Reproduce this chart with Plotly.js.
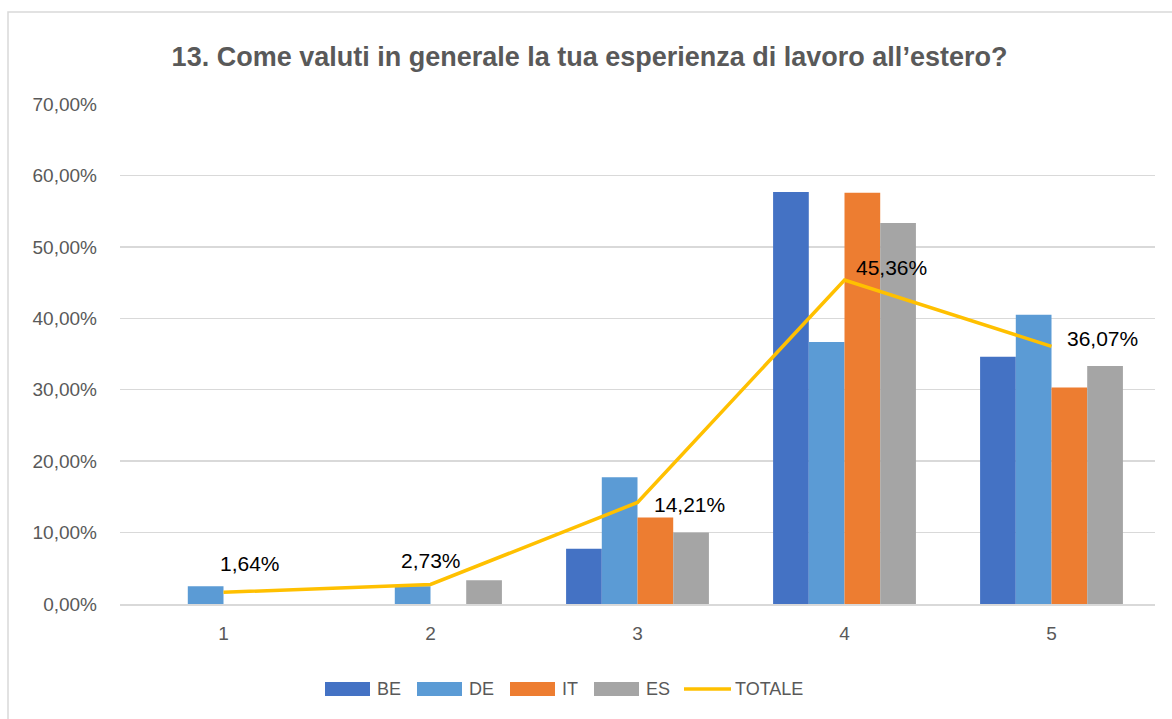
<!DOCTYPE html>
<html>
<head>
<meta charset="utf-8">
<script src="https://cdn.plot.ly/plotly-3.0.1.min.js"></script>
<style>html,body{margin:0;padding:0;background:#fff;}#chart{width:1172px;height:719px;}</style>
</head>
<body>
<div id="chart"></div>
<script>
const categories = ['1', '2', '3', '4', '5'];
const BE = [0, 0, 7.72, 57.69, 34.62];
const DE = [2.5, 2.5, 17.73, 36.67, 40.5];
const IT = [0, 0, 12.12, 57.58, 30.3];
const ES = [0, 3.33, 10.0, 53.33, 33.33];
const TOTALE = [1.64, 2.73, 14.21, 45.36, 36.07];
const yTicks = [0, 10, 20, 30, 40, 50, 60, 70];

const fmt = v => v.toFixed(2).replace('.', ',') + '%';
const font = '"Liberation Sans", Arial, sans-serif';

// plot area in pixels (for converting legend/border placement to paper coords)
const M = {l: 120, r: 17, t: 104, b: 115};
const W = 1172, H = 719;
const PW = W - M.l - M.r, PH = H - M.t - M.b;
const px = x => (x - M.l) / PW;
const py = y => (H - M.b - y) / PH;

const series = [
  {name: 'BE', y: BE, color: '#4472c4'},
  {name: 'DE', y: DE, color: '#5b9bd5'},
  {name: 'IT', y: IT, color: '#ed7d31'},
  {name: 'ES', y: ES, color: '#a5a5a5'}
];

const data = series.map(s => ({
  type: 'bar', name: s.name, x: categories, y: s.y,
  marker: {color: s.color}, hoverinfo: 'skip', showlegend: false
}));
data.push({
  type: 'scatter', mode: 'lines', name: 'TOTALE',
  x: categories, y: TOTALE,
  line: {color: '#ffc000', width: 3.5},
  hoverinfo: 'skip', showlegend: false
});

// data labels for TOTALE (x given as category index)
const labelStyle = [
  {xanchor: 'center', xshift: 26, yshift: 29},
  {xanchor: 'center', xshift: 0, yshift: 24},
  {xanchor: 'left', xshift: 14, yshift: -2},
  {xanchor: 'left', xshift: 9, yshift: 13},
  {xanchor: 'left', xshift: 13, yshift: 8}
];
const annotations = TOTALE.map((v, i) => ({
  x: i, y: v, xref: 'x', yref: 'y',
  text: fmt(v), showarrow: false,
  xanchor: labelStyle[i].xanchor, yanchor: 'middle',
  xshift: labelStyle[i].xshift, yshift: labelStyle[i].yshift,
  font: {family: font, size: 21, color: '#000'}
}));

// custom legend
const shapes = [{
  type: 'rect', xref: 'paper', yref: 'paper',
  x0: px(8), x1: 1.2, y0: -0.4, y1: py(12),
  line: {color: '#d9d9d9', width: 1.5}, fillcolor: 'rgba(0,0,0,0)', layer: 'below'
}];
const legendX = [325, 417, 510, 594];
const legY = 689;
series.forEach((s, i) => {
  shapes.push({
    type: 'rect', xref: 'paper', yref: 'paper',
    x0: px(legendX[i]), x1: px(legendX[i] + 45), y0: py(legY + 7), y1: py(legY - 7),
    fillcolor: s.color, line: {width: 0}
  });
  annotations.push({
    xref: 'paper', yref: 'paper', x: px(legendX[i] + 50), y: py(legY),
    xanchor: 'left', yanchor: 'middle', showarrow: false, text: s.name,
    font: {family: font, size: 18, color: '#595959'}
  });
});
shapes.push({
  type: 'line', xref: 'paper', yref: 'paper',
  x0: px(684), x1: px(731), y0: py(legY), y1: py(legY),
  line: {color: '#ffc000', width: 3.5}
});
annotations.push({
  xref: 'paper', yref: 'paper', x: px(733), y: py(legY),
  xanchor: 'left', yanchor: 'middle', showarrow: false, text: 'TOTALE',
  font: {family: font, size: 18, color: '#595959'}
});

const layout = {
  width: W, height: H,
  margin: M,
  paper_bgcolor: '#fff', plot_bgcolor: '#fff',
  title: {
    text: '<b>13. Come valuti in generale la tua esperienza di lavoro all\u2019estero?</b>',
    font: {family: font, size: 27, color: '#595959'},
    x: 0.503, xref: 'container', xanchor: 'center', y: 0.921, yanchor: 'middle'
  },
  barmode: 'group', bargap: 0.31, bargroupgap: 0,
  xaxis: {
    type: 'category', range: [-0.5, 4.5], showgrid: false, zeroline: false,
    showline: true, linecolor: '#d9d9d9', linewidth: 1.5,
    ticks: '', tickfont: {family: font, size: 19, color: '#595959'},
    ticklabelstandoff: 12
  },
  yaxis: {
    range: [0, 70], tickvals: yTicks, ticktext: yTicks.map(fmt),
    showgrid: true, gridcolor: '#d9d9d9', gridwidth: 1.3,
    zeroline: false, showline: false, ticks: '',
    tickfont: {family: font, size: 19, color: '#595959'}, ticklabelstandoff: 22
  },
  showlegend: false,
  annotations: annotations,
  shapes: shapes
};

Plotly.newPlot('chart', data, layout, {displayModeBar: false, staticPlot: true});
</script>
</body>
</html>
